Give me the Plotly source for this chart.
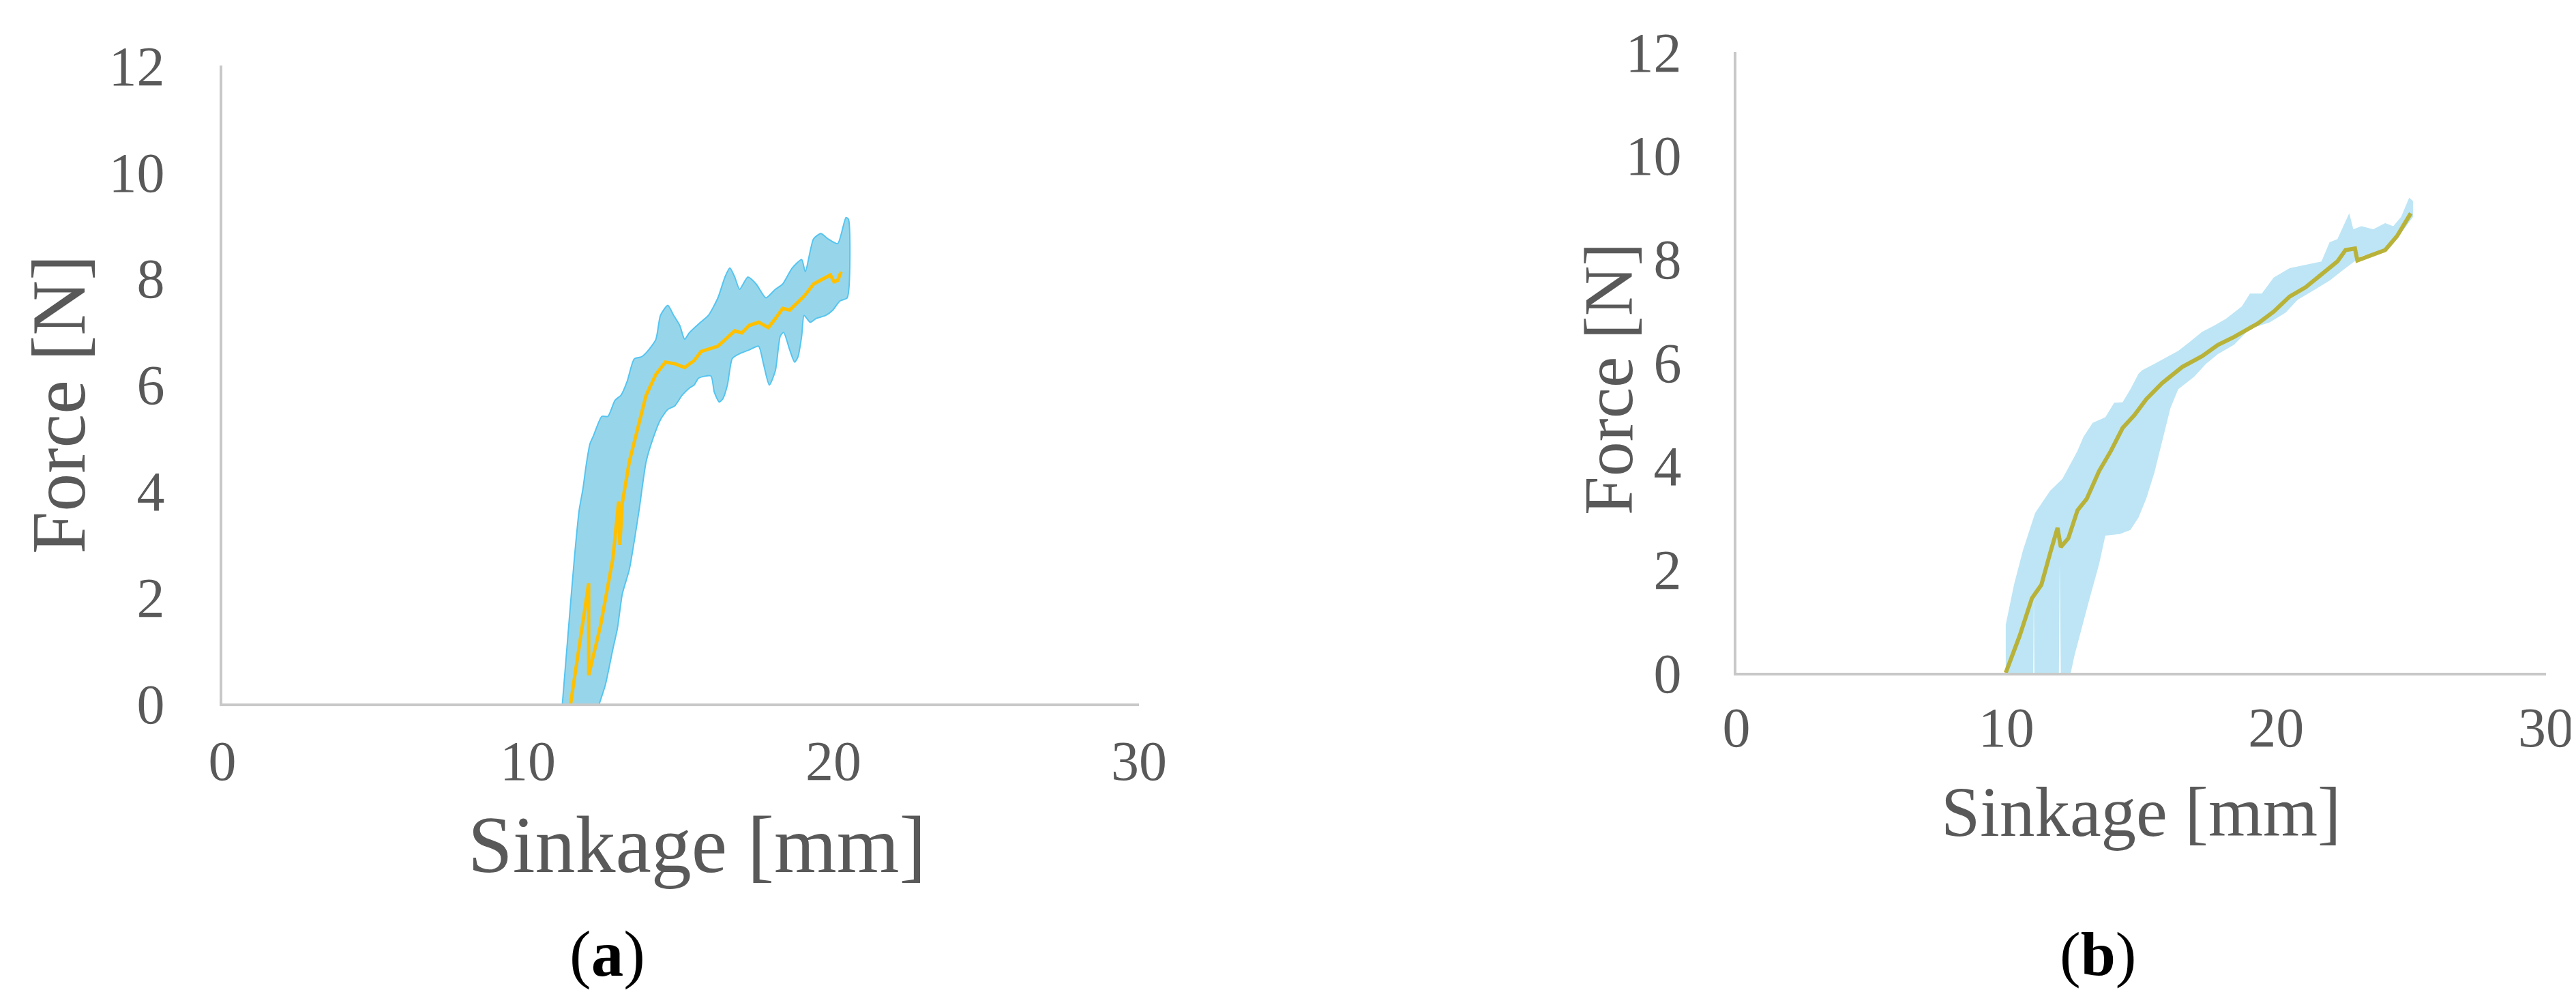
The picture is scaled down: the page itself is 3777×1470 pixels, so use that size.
import plotly.graph_objects as go

# ---- panel (a) ----
a_mean_x = [11.40, 11.99, 11.99, 12.38, 12.78, 12.97, 13.01, 13.09, 13.32, 13.56, 13.87, 14.19, 14.50,
            14.81, 15.13, 15.44, 15.67, 16.22, 16.53, 16.77, 17.00, 17.24, 17.55, 17.87, 18.10, 18.34,
            18.57, 19.04, 19.35, 19.59, 19.90, 20.02, 20.14, 20.25]
a_mean_y = [0.00, 2.26, 0.53, 1.47, 2.72, 3.80, 2.98, 3.77, 4.55, 5.08, 5.80, 6.19, 6.42,
            6.39, 6.32, 6.45, 6.62, 6.72, 6.88, 7.01, 6.97, 7.11, 7.17, 7.07, 7.24, 7.43,
            7.40, 7.66, 7.89, 7.96, 8.06, 7.93, 7.96, 8.12]

a_up_x = [11.13, 11.33, 11.52, 11.68, 11.80, 11.91, 12.03, 12.15, 12.42, 12.62, 12.85, 13.05, 13.25,
          13.48, 13.72, 13.91, 14.19, 14.34, 14.58, 14.77, 14.97, 15.13, 15.28, 15.59, 15.91, 16.22,
          16.45, 16.61, 16.77, 16.93, 17.20, 17.47, 17.79, 18.10, 18.34, 18.65, 18.96, 19.08, 19.35,
          19.59, 19.82, 20.14, 20.41, 20.49]
a_up_y = [0.00, 1.41, 2.72, 3.64, 4.03, 4.49, 4.88, 5.04, 5.40, 5.40, 5.70, 5.80, 6.06,
          6.48, 6.52, 6.62, 6.85, 7.30, 7.49, 7.30, 7.11, 6.85, 6.97, 7.14, 7.30, 7.63,
          8.02, 8.19, 8.02, 7.79, 8.02, 7.89, 7.63, 7.79, 7.89, 8.19, 8.35, 8.12, 8.74,
          8.84, 8.74, 8.65, 9.14, 9.11]
a_lo_x = [20.45, 20.21, 19.98, 19.75, 19.43, 19.24, 19.04, 18.96, 18.84, 18.73, 18.57, 18.37, 18.26,
          18.10, 17.90, 17.71, 17.55, 17.24, 16.93, 16.69, 16.53, 16.38, 16.26, 16.10, 15.99, 15.59,
          15.44, 15.28, 15.05, 14.81, 14.58, 14.34, 14.11, 13.87, 13.64, 13.48, 13.32, 13.09, 12.93,
          12.78, 12.54, 12.34]
a_lo_y = [7.63, 7.57, 7.40, 7.30, 7.24, 7.17, 7.30, 6.91, 6.52, 6.42, 6.65, 6.98, 6.91,
          6.26, 5.99, 6.39, 6.72, 6.65, 6.58, 6.49, 5.99, 5.73, 5.67, 5.86, 6.16, 6.12,
          5.99, 5.93, 5.80, 5.60, 5.53, 5.34, 5.01, 4.55, 3.64, 3.05, 2.52, 2.06, 1.41,
          1.02, 0.36, 0.00]

# ---- panel (b) ----
b_mean_x = [9.98, 10.50, 10.95, 11.06, 11.30, 11.63, 11.90, 12.02, 12.30, 12.64, 12.98, 13.44, 13.88,
            14.31, 14.75, 15.19, 15.78, 16.52, 17.26, 17.85, 18.44, 19.32, 19.91, 20.50, 21.09, 21.68,
            22.27, 22.57, 22.92, 23.01, 23.45, 24.04, 24.48, 24.99]
b_mean_y = [0.00, 0.72, 1.44, 1.52, 1.70, 2.32, 2.80, 2.43, 2.60, 3.14, 3.36, 3.90, 4.29,
            4.73, 4.98, 5.29, 5.60, 5.91, 6.12, 6.34, 6.49, 6.75, 6.98, 7.27, 7.45, 7.70,
            7.95, 8.17, 8.20, 7.97, 8.05, 8.17, 8.44, 8.88]

b_up_x = [9.98, 9.98, 10.29, 10.62, 11.07, 11.63, 12.08, 12.41, 12.64, 12.86, 13.20, 13.67, 14.00,
          14.31, 14.60, 14.90, 15.04, 15.49, 15.93, 16.37, 16.81, 17.26, 17.70, 18.14, 18.73, 19.03,
          19.47, 19.91, 20.50, 21.09, 21.68, 21.98, 22.27, 22.71, 22.86, 23.16, 23.60, 24.04, 24.34,
          24.63, 24.93, 25.07]
b_up_y = [0.00, 0.93, 1.71, 2.37, 3.09, 3.52, 3.75, 4.07, 4.29, 4.56, 4.83, 4.94, 5.22,
          5.23, 5.48, 5.78, 5.85, 5.97, 6.09, 6.22, 6.40, 6.59, 6.71, 6.84, 7.08, 7.33,
          7.33, 7.64, 7.82, 7.89, 7.95, 8.32, 8.38, 8.88, 8.57, 8.63, 8.57, 8.69, 8.63,
          8.81, 9.18, 9.12]
b_lo_x = [25.07, 24.63, 24.19, 23.75, 23.16, 22.57, 21.98, 21.39, 20.80, 20.35, 19.76, 19.03, 18.44,
          17.85, 17.40, 16.96, 16.37, 16.08, 15.78, 15.49, 15.19, 14.90, 14.60, 14.20, 13.67, 13.44,
          13.09, 12.53, 12.39, 12.02, 11.98, 11.95, 11.04, 11.02, 11.00]
b_lo_y = [8.81, 8.50, 8.20, 8.13, 8.05, 7.82, 7.58, 7.39, 7.21, 6.96, 6.77, 6.65, 6.34,
          6.16, 5.97, 5.72, 5.48, 5.11, 4.49, 3.87, 3.37, 3.00, 2.76, 2.68, 2.65, 2.10,
          1.44, 0.34, 0.00, 0.00, 2.15, 0.00, 0.00, 1.60, 0.00]

x_ticks = [0, 10, 20, 30]
y_ticks = [0, 2, 4, 6, 8, 10, 12]

W, H = 3777, 1470
FONT = "Liberation Serif"
GREY = "#595959"


def px(x):
    return x / W


def py(y):
    return 1 - y / H


fig = go.Figure()

# band (a) with blue edge
fig.add_trace(go.Scatter(x=a_up_x + a_lo_x, y=a_up_y + a_lo_y, fill="toself",
                         fillcolor="#97D6EA", mode="lines",
                         line=dict(color="#55C4F0", width=2, shape="spline", smoothing=0.6),
                         xaxis="x", yaxis="y", hoverinfo="skip"))
fig.add_trace(go.Scatter(x=a_mean_x, y=a_mean_y, mode="lines",
                         line=dict(color="#FFC000", width=5),
                         xaxis="x", yaxis="y"))

# band (b)
fig.add_trace(go.Scatter(x=b_up_x + b_lo_x, y=b_up_y + b_lo_y, fill="toself",
                         fillcolor="#BDE5F5", mode="lines",
                         line=dict(color="#BDE5F5", width=0),
                         xaxis="x2", yaxis="y2", hoverinfo="skip"))
fig.add_trace(go.Scatter(x=b_mean_x, y=b_mean_y, mode="lines",
                         line=dict(color="#B9B239", width=6),
                         xaxis="x2", yaxis="y2"))

axis_common = dict(showgrid=False, zeroline=False, showline=True, linecolor="#C8C8C8",
                   linewidth=4, ticks="", automargin=False,
                   tickfont=dict(family=FONT, size=82, color=GREY))

fig.update_layout(
    width=W, height=H,
    margin=dict(l=0, r=0, t=0, b=0),
    paper_bgcolor="white", plot_bgcolor="white",
    showlegend=False,
    xaxis=dict(domain=[px(318), px(1662)], range=[0, 30], tickvals=x_ticks,
               anchor="y", ticklabelstandoff=10, **axis_common),
    yaxis=dict(domain=[py(1023), py(88)], range=[0, 12], tickvals=y_ticks,
               anchor="x", ticklabelstandoff=64, **axis_common),
    xaxis2=dict(domain=[px(2538), px(3725)], range=[0, 30], tickvals=x_ticks,
                anchor="y2", ticklabelstandoff=6, **axis_common),
    yaxis2=dict(domain=[py(978), py(68)], range=[0, 12], tickvals=y_ticks,
                anchor="x2", ticklabelstandoff=60, **axis_common),
)

labels = [
    ("Sinkage [mm]", 1014, 1230, 118, 0, GREY),
    ("Force [N]", 78, 585, 112, -90, GREY),
    ("Sinkage [mm]", 3131, 1182, 103, 0, GREY),
    ("Force [N]", 2350, 548, 102, -90, GREY),
    ("(<b>a</b>)", 882, 1390, 95, 0, "black"),
    ("(<b>b</b>)", 3068, 1390, 92, 0, "black"),
]
for text, x, y, size, ang, col in labels:
    fig.add_annotation(text=text, x=px(x), y=py(y), xref="paper", yref="paper",
                       xanchor="center", yanchor="middle", showarrow=False,
                       textangle=ang, font=dict(family=FONT, size=size, color=col))

fig.write_html("out.html")
